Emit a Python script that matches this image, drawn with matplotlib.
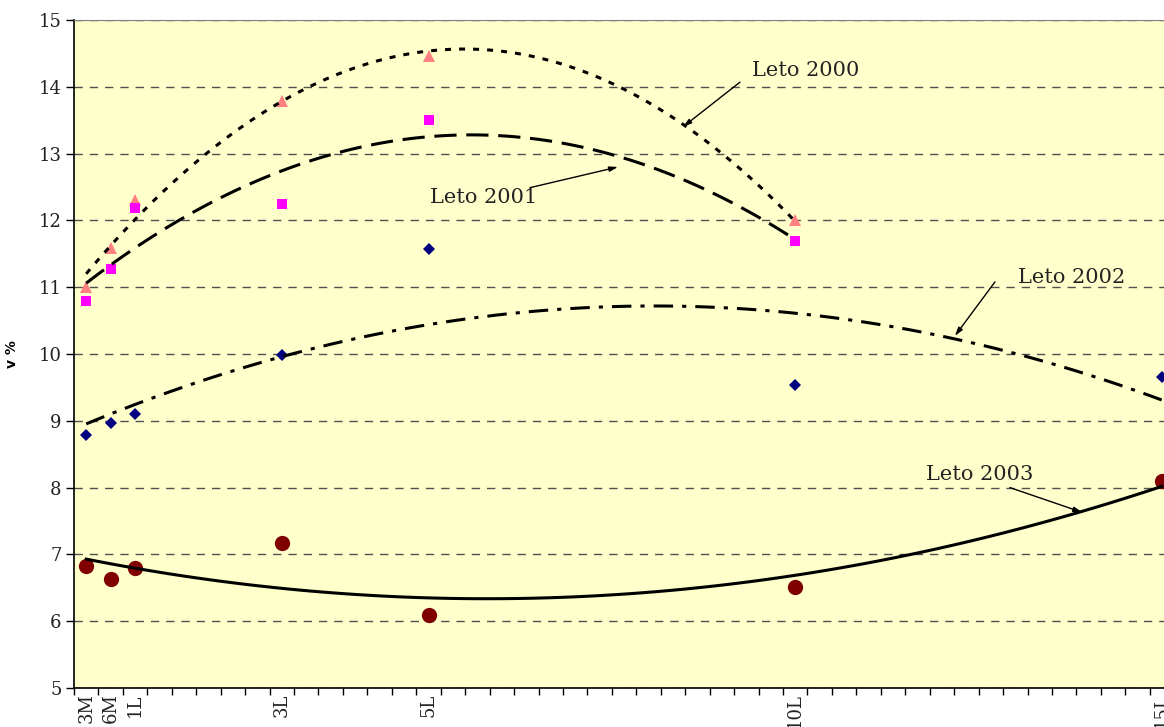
import numpy as np
import matplotlib
matplotlib.use("Agg")
import matplotlib.pyplot as plt

plt.rcParams['lines.scale_dashes'] = False

# category slots on the x axis (one slot = 4 months), labels only where measured
labels = ["3M", "6M", "1L", "3L", "5L", "10L", "15L"]
slots = [0, 1, 2, 8, 14, 29, 44]
n_slots = 45

leto_2000 = [11.00, 11.59, 12.30, 13.79, 14.46, 12.00]
leto_2001 = [10.79, 11.27, 12.19, 12.25, 13.50, 11.69]
leto_2002 = [8.79, 8.97, 9.10, 9.99, 11.57, 9.54, 9.66]
leto_2003 = [6.83, 6.63, 6.80, 7.17, 6.09, 6.51, 8.10]

series = [
    ("Leto 2000", leto_2000, dict(marker="^", color="#FF8080", ms=8), (0, (4.3, 5.8))),
    ("Leto 2001", leto_2001, dict(marker="s", color="#FF00FF", ms=6.5), (0, (16, 7))),
    ("Leto 2002", leto_2002, dict(marker="D", color="#000080", ms=6), (0, (14, 6.5, 3, 6.5))),
    ("Leto 2003", leto_2003, dict(marker="o", color="#800000", ms=11), "-"),
]

fig = plt.figure(figsize=(11.64, 7.27), dpi=100)
ax = fig.add_axes([0.06357, 0.05365, 0.9452, 0.91884])
ax.set_facecolor("#FFFFCC")

for name, vals, mk, ls in series:
    x = np.array(slots[:len(vals)], dtype=float)
    y = np.array(vals)
    ax.plot(x, y, linestyle="none", marker=mk["marker"], color=mk["color"],
            markersize=mk["ms"], markeredgewidth=0, zorder=3)
    # second order polynomial trend line over the measured range
    coef = np.polyfit(x, y, 2)
    xs = np.linspace(x[0], x[-1], 120)
    ax.plot(xs, np.polyval(coef, xs), color="black", lw=2.2, linestyle=ls, zorder=4)

ax.set_xlim(-0.5, n_slots - 0.5)
ax.set_ylim(5, 15)
ax.set_yticks(range(5, 16))
ax.yaxis.grid(True, color="#505050", linestyle=(0, (6, 5)), lw=1.0)
ax.set_axisbelow(True)

ax.set_xticks(np.arange(-0.5, n_slots, 1.0))
ax.set_xticklabels([])
ax.set_xticks(slots, labels, minor=True)
ax.tick_params(axis="x", which="major", direction="out", length=5, width=1)
ax.tick_params(axis="x", which="minor", length=0, pad=4, labelrotation=90)
ax.tick_params(axis="y", direction="out", length=6, width=1, pad=3)

for lab in ax.get_xticklabels(minor=True) + ax.get_yticklabels():
    lab.set_fontfamily("DejaVu Serif")
    lab.set_fontsize(13)
    lab.set_color("#222222")
for lab in ax.get_xticklabels(minor=True):
    lab.set_va("top")

ax.spines["top"].set_color("#808080")
ax.spines["right"].set_visible(False)
ax.spines["left"].set_linewidth(1.2)
ax.spines["bottom"].set_linewidth(1.2)

ax.set_ylabel("v %", fontsize=10, fontweight="bold", family="DejaVu Sans")
ax.yaxis.set_label_coords(-0.05, 0.5)

# series captions with pointer arrows
notes = [
    ("Leto 2000", (27.23, 14.25), (26.74, 14.07), (24.41, 13.40)),
    ("Leto 2001", (14.06, 12.34), (18.15, 12.49), (21.75, 12.80)),
    ("Leto 2002", (38.11, 11.14), (37.17, 11.08), (35.53, 10.27)),
    ("Leto 2003", (34.35, 8.20), (37.78, 8.00), (40.73, 7.63)),
]
for text, pos, tail, head in notes:
    ax.text(pos[0], pos[1], text, family="DejaVu Serif", fontsize=15,
            color="#222222", ha="left", va="center", zorder=5)
    ax.annotate("", xy=head, xytext=tail,
                arrowprops=dict(arrowstyle="-|>,head_length=0.5,head_width=0.15",
                                color="black", lw=1.0, shrinkA=0, shrinkB=0),
                zorder=5)

fig.savefig("out.png", dpi=100)
